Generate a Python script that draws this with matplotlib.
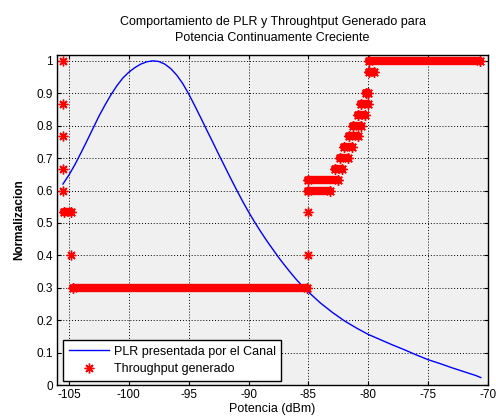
import matplotlib
matplotlib.use("Agg")
import matplotlib.pyplot as plt
from matplotlib.lines import Line2D

plt.rcParams['font.family'] = ['Liberation Sans', 'DejaVu Sans']

# PLR curve
plr_x = [-105.5, -105.0, -104.5, -104.0, -103.5, -103.0, -102.5, -102.0, -101.5, -101.0,
         -100.5, -100.0, -99.5, -99.0, -98.5, -98.0, -97.5, -97.0, -96.5, -96.0,
         -95.5, -95.0, -94.5, -94.0, -93.5, -93.0, -92.5, -92.0, -91.5, -91.0,
         -90.5, -90.0, -89.5, -89.0, -88.5, -88.0, -87.5, -87.0, -86.5, -86.0,
         -85.5, -85.0, -84.0, -83.0, -82.0, -81.0, -80.0, -79.0, -78.0, -77.0,
         -76.0, -75.0, -74.0, -73.0, -72.0, -71.0, -70.6]
plr_y = [0.62, 0.648, 0.68, 0.716, 0.753, 0.791, 0.829, 0.863, 0.895, 0.923,
         0.947, 0.965, 0.979, 0.99, 0.997, 1.0, 0.998, 0.99, 0.976, 0.956,
         0.93, 0.898, 0.862, 0.825, 0.787, 0.75, 0.712, 0.675, 0.638, 0.602,
         0.567, 0.534, 0.503, 0.474, 0.446, 0.42, 0.394, 0.37, 0.347, 0.325,
         0.305, 0.287, 0.253, 0.224, 0.198, 0.176, 0.156, 0.14, 0.124, 0.109,
         0.093, 0.078, 0.066, 0.053, 0.041, 0.029, 0.023]

# Throughput: isolated samples
thr_single_x = [-105.5, -105.5, -105.5, -105.5, -105.5, -104.8, -85.0, -85.0]
thr_single_y = [1.0, 0.867, 0.767, 0.667, 0.6, 0.4, 0.4, 0.533]

# Throughput: runs of identical values (start power, end power, level)
run_start = [-105.4, -104.7, -85.0, -85.0, -82.8, -82.4, -82.0, -81.6, -81.3, -80.9, -80.6, -80.2, -79.9, -79.9]
run_end   = [-104.8, -85.1, -83.2, -82.5, -82.2, -81.7, -81.4, -80.9, -80.6, -80.3, -80.0, -80.0, -79.5, -70.7]
run_level = [0.533, 0.3, 0.6, 0.633, 0.667, 0.7, 0.733, 0.767, 0.8, 0.833, 0.867, 0.9, 0.967, 1.0]

xticks = [-105, -100, -95, -90, -85, -80, -75, -70]
yticks = [0, 0.1, 0.2, 0.3, 0.4, 0.5, 0.6, 0.7, 0.8, 0.9, 1]
ytick_labels = ['0', '0.1', '0.2', '0.3', '0.4', '0.5', '0.6', '0.7', '0.8', '0.9', '1']

fig = plt.figure(figsize=(4.96, 4.17), dpi=100)
ax = fig.add_axes([57/496, 1-385/417, (488-57)/496, (385-55)/417])
ax.set_facecolor('#f0f0f0')

ax.plot(plr_x, plr_y, color='#0000ff', lw=1.0, zorder=3)

red = '#ff0000'
ast = (8, 2, 0)
for x0, x1, y in zip(run_start, run_end, run_level):
    ax.plot([x0, x1], [y, y], color=red, lw=6.0, solid_capstyle='round', zorder=4)
    ax.plot([x0, x1], [y, y], color=red, lw=0, marker=ast, ms=7.5, mew=1.0, zorder=4)
ax.plot(thr_single_x, thr_single_y, color=red, lw=0, marker=ast, ms=7, mew=1.0, zorder=4)

ax.set_xlim(-106, -70)
ax.set_ylim(0, 1.018)
ax.set_xticks(xticks)
ax.set_xticklabels([str(t) for t in xticks])
ax.set_yticks(yticks)
ax.set_yticklabels(ytick_labels)
ax.tick_params(direction='in', length=3, labelsize=8.5, top=True, right=True, pad=3)
ax.grid(True, color='black', linestyle=(0, (1, 2)), linewidth=0.7)
for s in ax.spines.values():
    s.set_linewidth(1.0)
    s.set_color('black')

ax.set_xlabel('Potencia (dBm)', fontsize=9, labelpad=1)
ax.set_ylabel('Normalizacion', fontsize=8.5, fontweight='bold', labelpad=8)
ax.set_title('Comportamiento de PLR y Throughtput Generado para\nPotencia Continuamente Creciente',
             fontsize=9, pad=10, linespacing=1.45)

handles = [Line2D([0], [0], color='#0000ff', lw=1.0),
           Line2D([0], [0], color=red, lw=0, marker=ast, ms=7, mew=1.0)]
leg = ax.legend(handles, ['PLR presentada por el Canal', 'Throughput generado'],
                loc='lower left', bbox_to_anchor=(6/431, 4/330), borderaxespad=0,
                fontsize=9, fancybox=False, edgecolor='black', framealpha=1,
                borderpad=0.45, handlelength=3.2, handletextpad=0.4, labelspacing=0.45)
leg.get_frame().set_linewidth(1.0)

fig.savefig('out.png', dpi=100)
